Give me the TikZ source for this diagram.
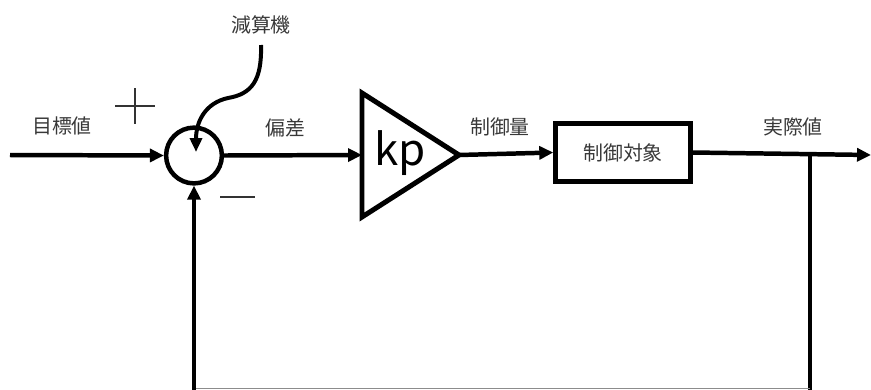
\documentclass[tikz,border=0pt]{standalone}
\usepackage{fontspec}
\setmainfont{Noto Sans CJK JP}
\usetikzlibrary{arrows.meta}
\tikzset{
  conn/.style={line width=4.5pt,-{Triangle[length=14pt,width=13pt]}},
  plain/.style={line width=4.5pt},
  lbl/.style={font=\fontsize{20}{24}\selectfont,inner sep=0pt,text=black!78},
  sign/.style={line width=2.8pt,black!80},
}
\begin{document}
\begin{tikzpicture}[x=1bp,y=-1bp]
\path[use as bounding box] (0,0) rectangle (871,389);
\clip (0,0) rectangle (871,389);
% nodes
\node[circle,draw,line width=4.5pt,minimum size=56pt,inner sep=0pt] (sub) at (194,155.5) {};
\coordinate (ampin) at (362,155);
\coordinate (ampout) at (459,155);
\draw[line width=5pt,miter limit=10] (362,93) -- (459,155) -- (362,217) -- cycle;
\node[font=\fontsize{44}{48}\selectfont,inner sep=0pt] (kp) at (400,153) {kp};
\node[draw,line width=5pt,minimum width=135pt,minimum height=59pt,inner sep=0pt,lbl] (plant) at (623,152.5) {制御対象};
\coordinate (start) at (10,155);
\coordinate (out) at (871,155);
\coordinate (tap) at (810,155);
\coordinate (c1) at (810,394);
\coordinate (c2) at (194,394);
\coordinate (g1) at (810,388.6);
\coordinate (g2) at (194,388.6);
% labels
\node[lbl] (lref) at (62,126) {目標値};
\node[lbl] (lsub) at (261,25) {減算機};
\node[lbl] (lerr) at (285,128) {偏差};
\node[lbl] (lu) at (500,127) {制御量};
\node[lbl] (ly) at (793,127) {実際値};
% signs
\coordinate (p) at (135,106);
\draw[sign] ([xshift=-20pt]p) -- ([xshift=20pt]p);
\draw[sign] ([yshift=-18pt]p) -- ([yshift=18pt]p);
\coordinate (m) at (237.5,197);
\draw[sign] ([xshift=-17.5pt]m) -- ([xshift=17.5pt]m);
% connectors
\draw[conn] (start) -- (sub.west);
\draw[conn] (sub.east) -- (ampin);
\draw[conn] (ampout) -- (plant.west);
\draw[conn] (plant.east) -- (out);
\draw[plain] (tap) -- (c1);
\draw[line width=1pt,black!45] (g1) -- (g2);
\draw[conn] (c2) -- (sub.south);
\coordinate (cs) at (261,45);
\draw[line width=4pt,-{Triangle[length=14pt,width=12pt]}] (cs) .. controls (262,80) and (252,94) .. (228,98) .. controls (205,103) and (196,122) .. (196,152);
\end{tikzpicture}
\end{document}
